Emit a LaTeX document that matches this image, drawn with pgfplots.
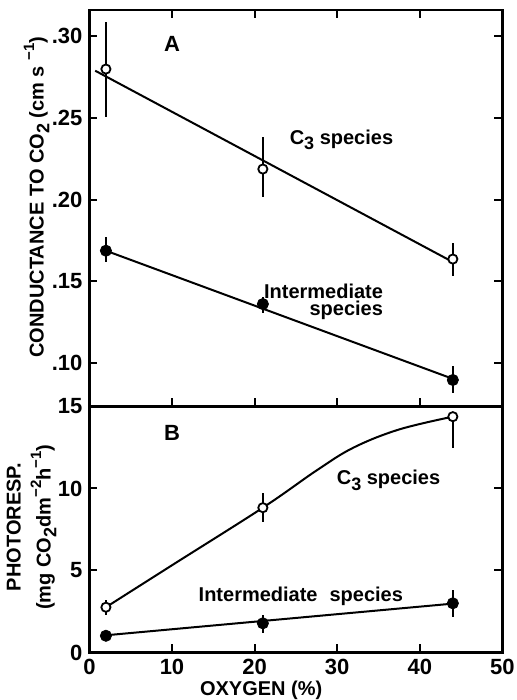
\documentclass[border=0pt]{standalone}
\usepackage{pgfplots}
\pgfplotsset{compat=1.18}
\usepackage{pgfplotstable}
\usepackage{fontspec}
\setmainfont{Liberation Sans}
\newcommand\sub[1]{\raisebox{-0.55ex}{\fontsize{9}{9}\selectfont #1}}
\newcommand\sps[1]{\raisebox{0.9ex}{\fontsize{7.5}{7.5}\selectfont #1}}

% Panel A: conductance
\pgfplotstableread[row sep=\\]{
x y ep em \\
2 0.2798 0.0288 0.0293 \\
21 0.2187 0.0196 0.0171 \\
44 0.1637 0.0098 0.0104 \\
}\AthreeData
\pgfplotstableread[row sep=\\]{
x y ep em \\
2 0.1688 0.0084 0.0069 \\
21 0.1362 0.0043 0.0055 \\
44 0.0898 0.0086 0.0081 \\
}\AintData
% Panel B: photorespiration
\pgfplotstableread[row sep=\\]{
x y ep em \\
2 2.76 0.45 0.45 \\
21 8.83 0.87 0.85 \\
44 14.38 0.0 1.93 \\
}\BthreeData
\pgfplotstableread[row sep=\\]{
x y ep em \\
2 1.02 0.0 0.0 \\
21 1.78 0.51 0.61 \\
44 3.00 0.81 0.82 \\
}\BintData

\begin{document}
\begin{tikzpicture}[font=\bfseries\fontsize{10}{11}\selectfont]
\useasboundingbox (-44.7pt,-23.75pt) rectangle (213.3pt,326.25pt);
\pgfplotsset{
  every axis/.append style={
    scale only axis, width=206.5pt, xmin=0, xmax=50,
    axis line style={line width=1.4pt},
    every tick/.style={line width=1pt, black},
    major tick length=4pt,
    tick align=inside,
    tick label style={font=\bfseries\fontsize{11}{12}\selectfont},
    /pgf/number format/assume math mode=true,
    label style={font=\bfseries\fontsize{10}{15}\selectfont},
  },
  ebars/.style={only marks, mark=none,
    error bars/.cd, y dir=both, y explicit, error mark=none,
    error bar style={line width=1pt, black}},
  openpts/.style={only marks, mark=*, mark size=2.3pt,
    mark options={fill=white, draw=black, line width=0.9pt}},
  fillpts/.style={only marks, mark=*, mark size=2.8pt,
    mark options={fill=black, draw=black}},
}
% ---------- Panel B (bottom) ----------
\begin{axis}[
  at={(0,0)}, anchor=south west, height=123pt,
  ymin=0, ymax=15,
  xtick={0,10,20,30,40,50}, xtick pos=left,
  ytick={0,5,10,15}, ytick pos=both, yticklabel pos=left,
  xlabel={OXYGEN (\%)},
  xlabel style={at={(axis description cs:0.416,0)}, anchor=center, yshift=-18.75pt},
  ylabel={PHOTORESP.\\(mg CO\sub{2}dm\sps{−2}h\sps{−1})},
  ylabel style={align=center, at={(axis description cs:-0.14,0.51)}, anchor=center},
]
\addplot[black, line width=1pt, smooth, tension=0.6] coordinates {
  (2,2.76) (10,5.32) (21,8.83) (27.5,11.1) (32,12.5) (37.5,13.6) (44,14.38)};
\addplot[black, line width=1pt] coordinates {(2,1.05) (44,2.98)};
\addplot[ebars] table[x=x, y=y, y error plus=ep, y error minus=em] {\BthreeData};
\addplot[ebars] table[x=x, y=y, y error plus=ep, y error minus=em] {\BintData};
\addplot[openpts] table[x=x, y=y] {\BthreeData};
\addplot[fillpts] table[x=x, y=y] {\BintData};
\node[font=\bfseries\fontsize{11}{12}\selectfont] at (axis cs:10,13.4) {B};
\node[anchor=west] at (axis cs:29.1,10.5) {C\sub{3} species};
\node at (axis cs:25.6,3.4) {Intermediate\hspace{0.6em}species};
\end{axis}
% ---------- Panel A (top) ----------
\begin{axis}[
  at={(0,123pt)}, anchor=south west, height=198.25pt,
  ymin=0.0736, ymax=0.3159,
  xtick={0,10,20,30,40,50}, xtick pos=both, xticklabels={},
  ytick={0.10,0.15,0.20,0.25,0.30}, yticklabels={.10,.15,.20,.25,.30},
  ytick pos=both, yticklabel pos=left,
  ylabel={CONDUCTANCE TO CO\sub{2} (cm s \sps{−1})},
  ylabel style={at={(axis description cs:-0.128,0.528)}, anchor=center},
]
\addplot[black, line width=1pt] coordinates {(0.7,0.2788) (44,0.1619)};
\addplot[black, line width=1pt] coordinates {(2,0.1688) (44,0.0905)};
\addplot[ebars] table[x=x, y=y, y error plus=ep, y error minus=em] {\AthreeData};
\addplot[ebars] table[x=x, y=y, y error plus=ep, y error minus=em] {\AintData};
\addplot[openpts] table[x=x, y=y] {\AthreeData};
\addplot[fillpts] table[x=x, y=y] {\AintData};
\node[font=\bfseries\fontsize{11}{12}\selectfont] at (axis cs:10,0.295) {A};
\node[anchor=west] at (axis cs:23.4,0.2365) {C\sub{3} species};
\node[anchor=east, align=right, font=\bfseries\fontsize{10}{8.5}\selectfont] at (axis cs:36.4,0.1378) {Intermediate\\species};
\end{axis}
\end{tikzpicture}
\end{document}
